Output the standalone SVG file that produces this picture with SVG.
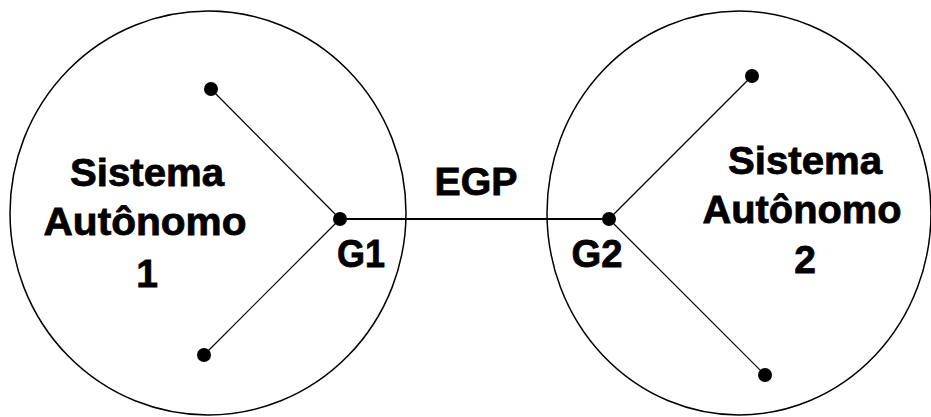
<svg xmlns="http://www.w3.org/2000/svg" width="931" height="417" viewBox="0 0 931 417">
<style>
.as{fill:none;stroke:#000;stroke-width:1.5}
.sp{stroke:#000;stroke-width:1.2}
.lk{stroke:#000;stroke-width:2.2}
.dot{fill:#000}
text{font-family:"Liberation Sans",Arial,sans-serif;font-weight:bold;font-size:39px;fill:#000;stroke:#000;stroke-width:0.8;text-anchor:middle}
</style>
<rect width="931" height="417" fill="#fff"/>
<g id="as1">
<ellipse class="as" cx="208" cy="213" rx="198" ry="202"/>
<text x="147" y="186" textLength="154" lengthAdjust="spacingAndGlyphs">Sistema</text>
<text x="145" y="235" textLength="203" lengthAdjust="spacingAndGlyphs">Autônomo</text>
<text x="147" y="287">1</text>
</g>
<g id="as2">
<ellipse class="as" cx="739" cy="213" rx="192" ry="202"/>
<text x="805" y="174" textLength="154" lengthAdjust="spacingAndGlyphs">Sistema</text>
<text x="802" y="223" textLength="199" lengthAdjust="spacingAndGlyphs">Autônomo</text>
<text x="805" y="273">2</text>
</g>
<g id="connectors">
<line class="sp" x1="340" y1="219" x2="211" y2="89"/>
<line class="sp" x1="340" y1="219" x2="204" y2="355"/>
<line class="sp" x1="609" y1="219" x2="752" y2="76"/>
<line class="sp" x1="609" y1="219" x2="765" y2="375"/>
<line class="lk" x1="340" y1="219" x2="609" y2="219"/>
</g>
<g id="n1"><circle class="dot" cx="211" cy="89" r="7"/></g>
<g id="n2"><circle class="dot" cx="204" cy="355" r="7"/></g>
<g id="G1"><circle class="dot" cx="340" cy="219" r="7"/><text x="361" y="267" textLength="48" lengthAdjust="spacingAndGlyphs">G1</text></g>
<g id="n3"><circle class="dot" cx="752" cy="76" r="7"/></g>
<g id="n4"><circle class="dot" cx="765" cy="375" r="7"/></g>
<g id="G2"><circle class="dot" cx="609" cy="219" r="7"/><text x="597" y="267" textLength="51" lengthAdjust="spacingAndGlyphs">G2</text></g>
<g id="egp"><text x="476" y="195" textLength="83" lengthAdjust="spacingAndGlyphs">EGP</text></g>
</svg>
